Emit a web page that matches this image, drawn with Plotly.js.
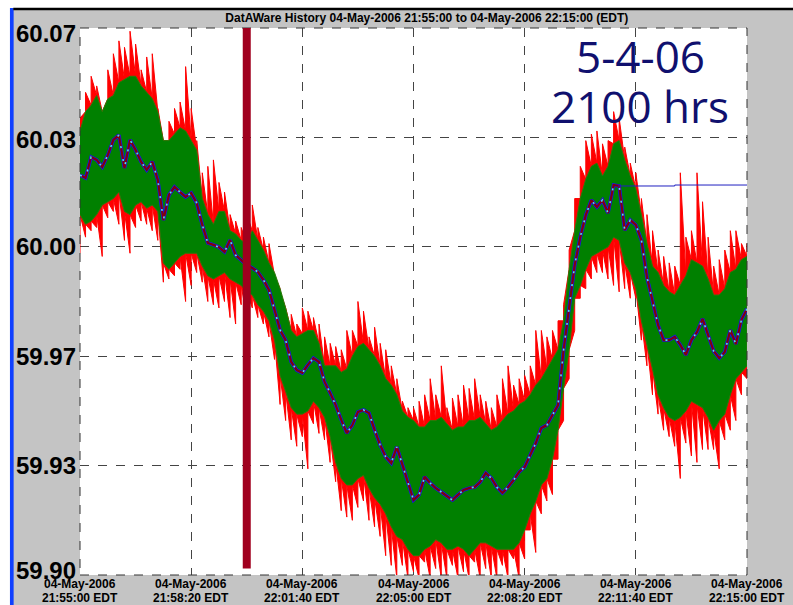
<!DOCTYPE html>
<html>
<head>
<meta charset="utf-8">
<script src="https://cdn.plot.ly/plotly-3.0.1.min.js"></script>
<style>html,body{margin:0;padding:0;background:#fff;}#chart{width:793px;height:605px;}</style>
</head>
<body>
<div id="chart"></div>
<script>
// ---- data (Hz), one sample every 10 s from 21:55:00 to 22:15:00 ----
const startTime = '2006-05-04 21:55:00';
const stepSeconds = 10;
const centerHz = [60.0243,60.0234,60.0299,60.0290,60.0268,60.0305,60.0352,60.0367,60.0265,60.0352,
60.0321,60.0284,60.0259,60.0284,60.0228,60.0103,60.0181,60.0206,60.0190,60.0175,
60.0187,60.0156,60.0088,60.0032,60.0026,60.0019,60.0004,60.0041,59.9994,59.9979,
59.9963,59.9954,59.9942,59.9917,59.9886,59.9824,59.9761,59.9730,59.9662,59.9637,
59.9628,59.9653,59.9674,59.9662,59.9600,59.9566,59.9528,59.9482,59.9441,59.9466,
59.9507,59.9513,59.9503,59.9451,59.9404,59.9367,59.9348,59.9398,59.9342,59.9289,
59.9233,59.9249,59.9305,59.9286,59.9270,59.9258,59.9245,59.9233,59.9249,59.9264,
59.9270,59.9273,59.9289,59.9317,59.9301,59.9273,59.9255,59.9273,59.9295,59.9320,
59.9336,59.9373,59.9410,59.9457,59.9466,59.9497,59.9528,59.9699,59.9824,59.9963,
60.0050,60.0119,60.0165,60.0144,60.0165,60.0125,60.0212,60.0209,60.0072,60.0103,
60.0088,60.0041,59.9926,59.9855,59.9777,59.9730,59.9730,59.9740,59.9715,59.9684,
59.9730,59.9755,59.9796,59.9746,59.9696,59.9674,59.9693,59.9761,59.9718,59.9793,59.9827];
const greenHigh = [60.038,60.044,60.046,60.049,60.044,60.048,60.049,60.053,60.054,60.055,
60.055,60.052,60.050,60.048,60.044,60.035,60.035,60.037,60.039,60.038,
60.035,60.032,60.017,60.012,60.009,60.013,60.013,60.007,60.006,60.004,
60.003,60.007,60.004,60.001,59.997,59.994,59.989,59.983,59.976,59.974,
59.975,59.976,59.976,59.972,59.965,59.965,59.965,59.963,59.964,59.968,
59.971,59.972,59.970,59.968,59.965,59.961,59.959,59.956,59.951,59.949,
59.948,59.946,59.946,59.948,59.948,59.949,59.947,59.945,59.946,59.946,
59.948,59.948,59.949,59.947,59.945,59.946,59.948,59.950,59.951,59.953,
59.954,59.956,59.959,59.961,59.964,59.967,59.970,59.979,59.995,60.007,
60.017,60.023,60.027,60.028,60.024,60.027,60.034,60.035,60.029,60.024,
60.020,60.012,60.003,59.996,59.994,59.990,59.988,59.987,59.990,59.993,
59.998,59.997,59.996,59.992,59.987,59.987,59.989,59.994,59.995,59.998,59.999];
const greenLow = [60.012,60.009,60.010,60.012,60.015,60.016,60.017,60.019,60.013,60.012,
60.015,60.016,60.014,60.015,60.013,59.997,59.995,59.997,59.999,60.000,
60.000,60.000,59.996,59.993,59.992,59.993,59.994,59.992,59.991,59.990,
59.988,59.987,59.984,59.982,59.979,59.973,59.962,59.957,59.952,59.950,
59.950,59.951,59.954,59.952,59.949,59.943,59.935,59.930,59.928,59.928,
59.930,59.931,59.927,59.924,59.922,59.919,59.915,59.912,59.911,59.908,
59.906,59.906,59.908,59.909,59.911,59.910,59.908,59.908,59.909,59.908,
59.906,59.908,59.910,59.910,59.909,59.908,59.908,59.908,59.908,59.910,
59.914,59.919,59.923,59.928,59.930,59.936,59.945,59.958,59.970,59.986,
59.990,59.995,59.999,60.000,60.001,60.002,60.005,60.004,59.997,59.994,
59.989,59.979,59.972,59.964,59.956,59.952,59.949,59.948,59.949,59.951,
59.954,59.953,59.952,59.949,59.945,59.948,59.950,59.956,59.961,59.963,59.965];
const redHigh = [60.042,60.050,60.055,60.052,60.044,60.057,60.062,60.066,60.064,60.069,
60.065,60.057,60.061,60.062,60.045,60.035,60.041,60.045,60.047,60.058,
60.045,60.035,60.025,60.027,60.029,60.022,60.019,60.012,60.010,60.008,
60.012,60.015,60.008,60.005,60.003,59.993,59.988,59.983,59.981,59.978,
59.983,59.982,59.980,59.978,59.974,59.972,59.971,59.970,59.976,59.976,
59.985,59.982,59.974,59.977,59.972,59.970,59.965,59.961,59.954,59.952,
59.952,59.954,59.956,59.961,59.956,59.965,59.952,59.955,59.956,59.959,
59.958,59.961,59.956,59.954,59.952,59.956,59.961,59.965,59.959,59.961,
59.962,59.965,59.976,59.976,59.974,59.976,59.979,59.984,60.001,60.017,
60.027,60.035,60.037,60.038,60.034,60.035,60.044,60.042,60.033,60.028,
60.025,60.017,60.012,60.007,60.001,59.999,59.997,59.996,60.025,60.005,
60.007,60.025,60.016,60.005,59.996,59.998,60.001,60.007,60.007,60.003,60.003];
const redLow = [60.000,60.005,60.007,60.008,59.999,60.011,60.013,60.009,60.004,60.000,
60.008,60.010,60.009,60.007,60.004,59.991,59.992,59.993,59.995,59.985,
59.990,59.994,59.991,59.985,59.984,59.983,59.985,59.980,59.978,59.984,
59.980,59.983,59.980,59.978,59.974,59.967,59.953,59.948,59.942,59.940,
59.943,59.933,59.947,59.944,59.942,59.935,59.929,59.920,59.918,59.917,
59.921,59.923,59.917,59.915,59.912,59.906,59.903,59.899,59.903,59.899,
59.901,59.899,59.904,59.899,59.902,59.899,59.899,59.903,59.899,59.901,
59.899,59.904,59.899,59.902,59.899,59.899,59.903,59.899,59.905,59.899,
59.905,59.914,59.907,59.919,59.923,59.925,59.936,59.948,59.961,59.976,
59.986,59.989,59.992,59.994,59.994,59.992,59.990,59.988,59.989,59.986,
59.986,59.973,59.965,59.956,59.950,59.945,59.943,59.940,59.930,59.941,
59.937,59.935,59.939,59.939,59.939,59.933,59.942,59.945,59.948,59.956,59.961];
// held value of the blue series after its last update
const holdTimes = ['2006-05-04 22:11:08','2006-05-04 22:12:50','2006-05-04 22:12:50','2006-05-04 22:15:00'];
const holdHz = [60.0209,60.0209,60.0212,60.0212];
const markerTime = '2006-05-04 22:00:00';
// axis ticks
const xTickVals = ['2006-05-04 21:55:00','2006-05-04 21:58:20','2006-05-04 22:01:40','2006-05-04 22:05:00','2006-05-04 22:08:20','2006-05-04 22:11:40','2006-05-04 22:15:00'];
const xTickDate = ['04-May-2006','04-May-2006','04-May-2006','04-May-2006','04-May-2006','04-May-2006','04-May-2006'];
const xTickClock = ['21:55:00 EDT','21:58:20 EDT','22:01:40 EDT','22:05:00 EDT','22:08:20 EDT','22:11:40 EDT','22:15:00 EDT'];
const yTickVals = [59.90,59.934,59.968,60.002,60.036,60.07];
const yTickText = ['59.90','59.93','59.97','60.00','60.03','60.07'];
const titleText = 'DatAWare History 04-May-2006 21:55:00 to 04-May-2006 22:15:00 (EDT)';
const noteLines = ['5-4-06','2100 hrs'];

// ---- build ----
function pad(n){return (n<10?'0':'')+n;}
function stamp(offset){
  const base = new Date(startTime.replace(' ','T')+'Z').getTime();
  const d = new Date(base + offset*1000);
  return d.getUTCFullYear()+'-'+pad(d.getUTCMonth()+1)+'-'+pad(d.getUTCDate())+' '+pad(d.getUTCHours())+':'+pad(d.getUTCMinutes())+':'+pad(d.getUTCSeconds());
}
const times = centerHz.map((_,i)=>stamp(i*stepSeconds));
const rev = a => a.slice().reverse();

// red spike band: from the green edge out to each red extreme, sample by sample
const redX = [], redY = [];
for (let i=0;i<times.length;i++){ redX.push(times[i],times[i]); redY.push(greenHigh[i],redHigh[i]); }
for (let i=times.length-1;i>=0;i--){ redX.push(times[i],times[i]); redY.push(greenLow[i],redLow[i]); }

const traces = [
  {x: redX, y: redY, type:'scatter', mode:'lines', fill:'toself', fillcolor:'#ff0000',
   line:{color:'#ff0000', width:1}, hoverinfo:'skip'},
  {x: times.concat(rev(times)), y: greenHigh.concat(rev(greenLow)), type:'scatter', mode:'lines',
   fill:'toself', fillcolor:'#008000', line:{color:'#2a7a0a', width:1}, hoverinfo:'skip'},
  {x: times, y: centerHz, type:'scatter', mode:'lines', line:{color:'#1010ff', width:3.5}},
  {x: times, y: centerHz, type:'scatter', mode:'lines', line:{color:'#800010', width:2.2}},
  {x: times, y: centerHz, type:'scatter', mode:'lines', line:{color:'#40e0ff', width:1.6, dash:'2px,11px'}},
  {x: holdTimes, y: holdHz, type:'scatter', mode:'lines', line:{color:'#2020c0', width:1}}
];

const labelFont = {family:'Liberation Sans, Arial, sans-serif', color:'#000', weight:700};
const annotations = [];
yTickVals.forEach((v,i)=>{
  const shift = i===0 ? 5 : (i===yTickVals.length-1 ? -5 : (i===4 ? -2 : 0));
  annotations.push({text:yTickText[i], xref:'paper', yref:'y', x:0, y:v, xanchor:'right', yanchor:'middle',
    xshift:-3, yshift:shift, showarrow:false, borderpad:0, font:Object.assign({size:24}, labelFont)});
});
xTickVals.forEach((t,i)=>{
  annotations.push({text:xTickDate[i], xref:'x', yref:'paper', x:t, y:-0.01645, xanchor:'center', yanchor:'middle',
    showarrow:false, borderpad:0, font:Object.assign({size:12}, labelFont)});
  annotations.push({text:xTickClock[i], xref:'x', yref:'paper', x:t, y:-0.04168, xanchor:'center', yanchor:'middle',
    showarrow:false, borderpad:0, font:Object.assign({size:12}, labelFont)});
});
annotations.push({text: noteLines[0], xref:'paper', yref:'paper', x:0.8396, y:0.9497, xanchor:'center', yanchor:'middle', showarrow:false,
  borderpad:0, font:{family:'Open Sans, Noto Sans, sans-serif', size:44, color:'#10106e'}});
annotations.push({text: noteLines[1], xref:'paper', yref:'paper', x:0.8396, y:0.8565, xanchor:'center', yanchor:'middle', showarrow:false,
  borderpad:0, font:{family:'Open Sans, Noto Sans, sans-serif', size:44, color:'#10106e'}});

const gray = '#c4c4c4';
const layout = {
  width: 793, height: 605,
  margin: {l:80, r:46, t:28, b:30},
  paper_bgcolor: gray, plot_bgcolor: '#ffffff',
  showlegend: false,
  title: {text: titleText, x: 0.52, xref:'paper', y: 0.971, yref:'container', yanchor:'middle',
          font:{family:'Liberation Sans, Arial, sans-serif', size:12, color:'#000', weight:700}},
  xaxis: {type:'date', range:['2006-05-04 21:55:00','2006-05-04 22:15:00'],
          tickmode:'array', tickvals:xTickVals, showticklabels:false, ticks:'',
          showgrid:true, gridcolor:'#444', griddash:'dash', gridwidth:1, zeroline:false, showline:false},
  yaxis: {range:[59.90,60.07], tickmode:'array', tickvals:yTickVals, showticklabels:false, ticks:'',
          showgrid:true, gridcolor:'#444', griddash:'dash', gridwidth:1, zeroline:false, showline:false},
  shapes: [
    {type:'rect', xref:'paper', yref:'paper', x0:-0.125, x1:1.07, y0:1.0366, y1:1.06, fillcolor:'#ffffff', line:{width:0}, layer:'below'},
    {type:'rect', xref:'paper', yref:'paper', x0:-0.125, x1:-0.105, y0:-0.06, y1:1.06, fillcolor:'#ffffff', line:{width:0}, layer:'below'},
    {type:'rect', xref:'paper', yref:'paper', x0:-0.105, x1:-0.0995, y0:-0.06, y1:1.0366, fillcolor:'#1040ff', line:{width:0}, layer:'below'},
    {type:'line', xref:'paper', yref:'paper', x0:-0.1, x1:1.07, y0:1.0348, y1:1.0348, line:{color:'#000', width:2.5}, layer:'below'},
    {type:'rect', xref:'paper', yref:'paper', x0:0, x1:1, y0:0, y1:1, line:{color:'#333', width:1, dash:'dash'}},
    {type:'line', xref:'x', yref:'y', x0:markerTime, x1:markerTime, y0:59.902, y1:60.071, line:{color:'#a0001e', width:8}}
  ],
  annotations: annotations
};
Plotly.newPlot('chart', traces, layout, {staticPlot:true, displayModeBar:false});
</script>
</body>
</html>
